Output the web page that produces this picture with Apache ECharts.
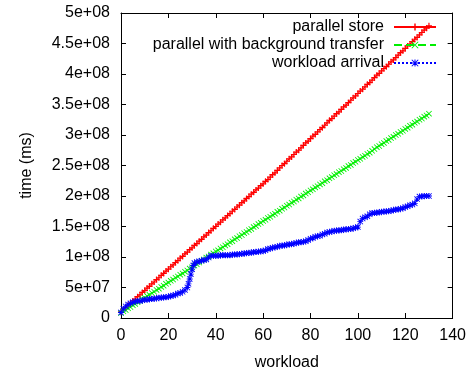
<!DOCTYPE html>
<html>
<head>
<meta charset="utf-8">
<script src="https://cdn.jsdelivr.net/npm/echarts@6/dist/echarts.min.js"></script>
<style>
html,body{margin:0;padding:0;background:#fff;}
#chart{width:469px;height:376px;}
</style>
</head>
<body>
<div id="chart"></div>
<script>
// ---- data (time values in millions of ms), one point per workload unit ----
var workload = [0,1,2,3,4,5,6,7,8,9,10,11,12,13,14,15,16,17,18,19,20,21,22,23,24,25,26,27,28,29,30,31,32,33,34,35,36,37,38,39,40,41,42,43,44,45,46,47,48,49,50,51,52,53,54,55,56,57,58,59,60,61,62,63,64,65,66,67,68,69,70,71,72,73,74,75,76,77,78,79,80,81,82,83,84,85,86,87,88,89,90,91,92,93,94,95,96,97,98,99,100,101,102,103,104,105,106,107,108,109,110,111,112,113,114,115,116,117,118,119,120,121,122,123,124,125,126,127,128,129,130];
var parallelStore = [
  10,14,17,21,24,28,31,35,38,42,
  45,49,52,56,59,63,66,70,73,77,
  80,84,87,91,94,98,101,105,108,112,
  115,119,122,126,129,133,136,140,143,147,
  150,154,157,161,164,168,171,175,178,182,
  185,189,192,196,199,203,206,210,213,217,
  220,224,227,231,235,238,242,246,250,253,257,
  261,264,268,272,275,279,283,287,290,294,
  298,301,305,309,312,316,320,324,327,331,
  335,338,342,346,349,353,357,361,364,368,
  372,375,379,383,386,390,394,398,401,405,
  409,412,416,420,423,427,431,435,438,442,
  446,449,453,457,460,464,468,472,475,479];
var parallelBg = [
  8,11,13,16,18,21,23,26,28,31,
  33,36,38,41,43,46,48,51,53,56,
  58,61,63,66,68,71,73,76,78,81,
  83,86,88,91,94,96,99,101,104,106,
  109,111,114,116,119,121,124,126,129,131,
  134,136,139,141,144,146,149,151,154,156,
  159,161,164,166,169,171,174,176,179,181,
  184,186,189,191,194,196,199,201,204,206,
  209,211,214,216,219,221,224,226,229,231,
  234,236,239,241,244,246,249,251,254,256,
  259,261,264,266,269,271,274,277,280,282,
  285,287,290,292,295,297,300,302,305,307,
  310,312,315,317,320,322,325,327,330,332,
  335];
var arrivalWorkload = [0,1,2,3,4,5,6,7,8,9,10,11,12,13,14,15,16,17,18,19,20,21,22,23,24,25,26,27,28,28.5,29,29.5,30,30.5,31,32,33,34,35,36,37,38,39,40,41,42,43,44,45,46,47,48,49,50,51,52,53,54,55,56,57,58,59,60,61,62,63,64,65,66,67,68,69,70,71,72,73,74,75,76,77,78,79,80,81,82,83,84,85,86,87,88,89,90,91,92,93,94,95,96,97,98,99,100,101,102,103,104,105,106,107,108,109,110,111,112,113,114,115,116,117,118,119,120,121,122,123,124,125,126,127,128,129,130];
var arrival = [
  9,15,19,22,24,26,27,28,28,29,
  30,30,31,31,32,32,33,33,34,34,
  35,36,37,38,40,41,43,46,50,56,64,72,80,86,90,
  92,93,94,95,96,99,102,102,
  102,102,103,103,103,103,103,104,104,104,
  105,105,106,106,107,107,108,108,109,109,
  110,111,113,114,115,116,117,118,119,119,
  120,121,121,122,123,124,124,125,126,128,
  130,131,133,134,135,137,138,140,141,142,
  143,143,144,144,145,145,146,146,147,148,
  149,158,163,165,167,170,172,172,173,173,
  174,174,175,175,176,177,178,178,179,180,
  182,183,185,186,188,195,199,199,200,200,
  200];
var seriesNames = ['parallel store','parallel with background transfer','workload arrival'];
var yTickLabels = ['0','5e+07','1e+08','1.5e+08','2e+08','2.5e+08','3e+08','3.5e+08','4e+08','4.5e+08','5e+08'];
var xTickLabels = ['0','20','40','60','80','100','120','140'];

function pairs(xs, ys){ return xs.map(function(x,i){ return [x, ys[i]*1e6]; }); }

var PLUS = 'path://M4,0H6V4H10V6H6V10H4V6H0V4H4Z';
var CROSS = 'path://M0,1L1,0L10,9L9,10Z M9,0L10,1L1,10L0,9Z';
var STAR = 'path://M4.3,0H5.7V4.3H10V5.7H5.7V10H4.3V5.7H0V4.3H4.3Z M1,0L10,9L9,10L0,1Z M9,0L10,1L1,10L0,9Z';
var FONT = '"Liberation Sans", Arial, sans-serif';

var chart = echarts.init(document.getElementById('chart'), null, {renderer:'canvas'});
var axisCommon = {
  axisLine:{show:true, onZero:false, lineStyle:{color:'#000', width:1}},
  axisTick:{show:true, inside:true, length:5, lineStyle:{color:'#000'}},
  splitLine:{show:false}
};
chart.setOption({
  animation:false,
  backgroundColor:'#fff',
  grid:{left:121, right:16, top:13, bottom:57, containLabel:false},
  legend:{
    orient:'vertical', align:'right', right:27, top:14,
    itemWidth:42, itemHeight:9, itemGap:2,
    textStyle:{fontSize:16, color:'#000', fontFamily:FONT, padding:[0,5,0,0]},
    data:seriesNames
  },
  xAxis:[
    Object.assign({type:'value', min:0, max:140, interval:20, position:'bottom',
      name:'workload', nameLocation:'middle', nameGap:37,
      nameTextStyle:{fontSize:16, color:'#000', fontFamily:FONT},
      axisLabel:{fontSize:16, color:'#000', fontFamily:FONT, margin:10,
        formatter:function(v){ return xTickLabels[Math.round(v/20)]; }}}, axisCommon),
    Object.assign({type:'value', min:0, max:140, interval:20, position:'top',
      axisLabel:{show:false}}, axisCommon)
  ],
  yAxis:[
    Object.assign({type:'value', min:0, max:5e8, interval:5e7, position:'left',
      name:'time (ms)', nameLocation:'middle', nameGap:86,
      nameTextStyle:{fontSize:16, color:'#000', fontFamily:FONT},
      axisLabel:{fontSize:16, color:'#000', fontFamily:FONT, margin:11,
        formatter:function(v){ return yTickLabels[Math.round(v/5e7)]; }}}, axisCommon),
    Object.assign({type:'value', min:0, max:5e8, interval:5e7, position:'right',
      axisLabel:{show:false}}, axisCommon)
  ],
  series:[
    {name:seriesNames[0], type:'line', data:pairs(workload, parallelStore),
     symbol:PLUS, symbolSize:6, showAllSymbol:true,
     itemStyle:{color:'#ff0000'}, lineStyle:{color:'#ff0000', width:1, type:'solid'}},
    {name:seriesNames[1], type:'line', data:pairs(workload, parallelBg),
     symbol:CROSS, symbolSize:6, showAllSymbol:true,
     itemStyle:{color:'#00ee00'}, lineStyle:{color:'#00ee00', width:1, type:'dashed'}},
    {name:seriesNames[2], type:'line', data:pairs(arrivalWorkload, arrival),
     symbol:STAR, symbolSize:6, showAllSymbol:true,
     itemStyle:{color:'#0000ff'}, lineStyle:{color:'#0000ff', width:1, type:'dotted'}}
  ]
});
</script>
</body>
</html>
